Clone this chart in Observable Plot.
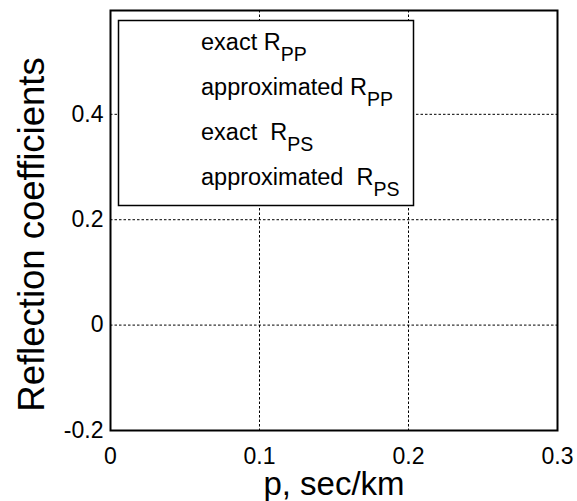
<!DOCTYPE html>
<html><head><meta charset="utf-8">
<script src="https://cdn.jsdelivr.net/npm/d3@7"></script>
<script src="https://cdn.jsdelivr.net/npm/@observablehq/plot@0.6"></script>
<style>
body{margin:0;background:#fff;}
#chart svg{display:block;}
</style></head><body><div id="chart"></div>
<script>
// Axis ticks and grid
const xTicks = [0, 0.1, 0.2, 0.3];
const yTicks = [-0.2, 0, 0.2, 0.4];
const xGrid = [0.1, 0.2];
const yGrid = [0, 0.2, 0.4];
const xDomain = [0, 0.3];
const yDomain = [-0.2, 0.597];
// Legend entries (main text + subscript); the curves themselves are not visible in the picture
const legendMain = ["exact R", "approximated R", "exact  R", "approximated  R"];
const legendSub = ["PP", "PP", "PS", "PS"];
const xLabel = "p, sec/km";
const yLabel = "Reflection coefficients";

const font = "'Liberation Sans', Arial, sans-serif";

const chart = Plot.plot({
  width: 577, height: 501,
  marginLeft: 110, marginRight: 20, marginTop: 10, marginBottom: 71,
  style: {fontFamily: font, background: "white", color: "black"},
  x: {domain: xDomain},
  y: {domain: yDomain},
  marks: [
    Plot.ruleX(xGrid, {stroke: "black", strokeDasharray: "2.5,2", strokeWidth: 1}),
    Plot.ruleY(yGrid, {stroke: "black", strokeDasharray: "2.5,2", strokeWidth: 1}),
    Plot.frame({stroke: "black", strokeWidth: 2}),
    Plot.axisX(xTicks, {tickSize: 0, tickPadding: 17, fontSize: 23, tickFormat: d => String(d),
      label: xLabel, labelAnchor: "center", labelArrow: "none", labelOffset: 64}),
    Plot.axisY(yTicks, {tickSize: 0, tickPadding: 7, fontSize: 23, tickFormat: d => String(d),
      label: yLabel, labelAnchor: "center", labelArrow: "none", labelOffset: 92})
  ]
});
document.getElementById("chart").appendChild(chart);

const svg = d3.select(chart);
svg.select('g[aria-label="x-axis label"]').attr("font-size", 33);
const yl = svg.select('g[aria-label="y-axis label"]');
yl.attr("font-size", 36.5).attr("transform", ((yl.attr("transform") || "") + " translate(0,14)").trim());

// Legend box
const lg = svg.append("g").attr("font-family", font).attr("fill", "black").attr("text-anchor", "start");
lg.append("rect").attr("x", 118.5).attr("y", 20.5).attr("width", 295).attr("height", 185)
  .attr("fill", "white").attr("stroke", "black").attr("stroke-width", 1.5);
legendMain.forEach((m, i) => {
  const t = lg.append("text").attr("x", 201).attr("y", 50 + i * 45)
    .attr("font-size", 23.5).style("white-space", "pre").attr("xml:space", "preserve");
  t.append("tspan").text(m);
  t.append("tspan").attr("font-size", 19.5).attr("dy", 11).text(legendSub[i]);
});
</script></body></html>
